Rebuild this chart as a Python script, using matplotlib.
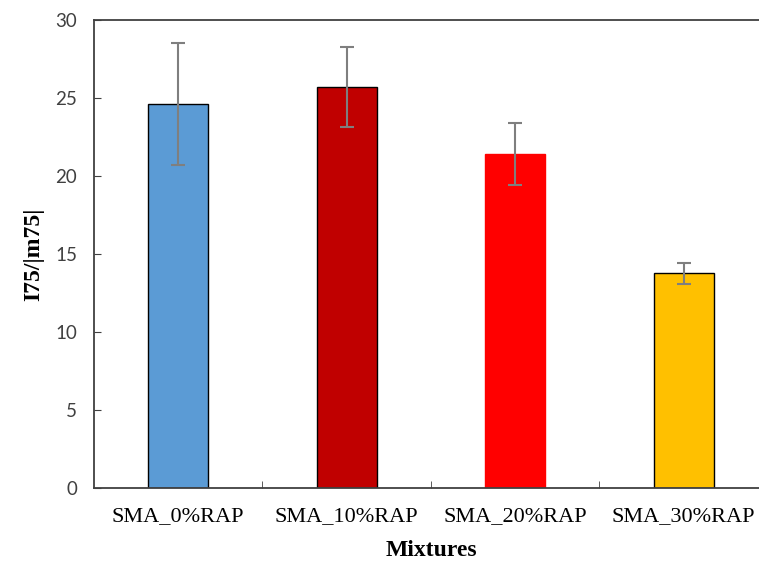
import matplotlib
matplotlib.use("Agg")
import matplotlib.pyplot as plt

mixtures = ["SMA_0%RAP", "SMA_10%RAP", "SMA_20%RAP", "SMA_30%RAP"]
ratio_mean = [24.6, 25.7, 21.4, 13.75]
ratio_err = [3.9, 2.55, 2.0, 0.65]
bar_colors = ["#5B9BD5", "#C00000", "#FF0000", "#FFC000"]
edge_colors = ["black", "black", "#FF0000", "black"]

fig = plt.figure(figsize=(7.59, 5.64), dpi=100)
ax = fig.add_axes([0.1238, 0.1348, 0.888, 0.8297])

x = range(len(mixtures))
ax.bar(x, ratio_mean, width=0.356, color=bar_colors, edgecolor=edge_colors,
       linewidth=1.0, zorder=2)
ax.errorbar(x, ratio_mean, yerr=ratio_err, fmt="none", ecolor="#7f7f7f",
            elinewidth=1.5, capsize=5, capthick=1.5, zorder=3)

ax.set_xlim(-0.5, 3.5)
ax.set_ylim(0, 30)
ax.set_yticks(range(0, 31, 5))
ax.set_xticks(x)
ax.set_xticklabels(mixtures, family="Liberation Serif", fontsize=16)
ax.set_xticks([0.5, 1.5, 2.5], minor=True)
ax.tick_params(axis="x", which="major", length=0, pad=14)
ax.tick_params(axis="x", which="minor", direction="in", length=5, color="#404040")
ax.tick_params(axis="y", direction="in", length=5, color="#404040",
               labelsize=13.5, labelcolor="#404040", pad=12)
for lbl in ax.get_yticklabels():
    lbl.set_family("Lato")

for side in ["top", "left", "bottom"]:
    ax.spines[side].set_color("#404040")
    ax.spines[side].set_linewidth(1.3)
ax.spines["right"].set_visible(False)

ax.set_ylabel("I75/|m75|", family="Liberation Serif", fontweight="bold",
              fontsize=17, labelpad=8)
ax.set_xlabel("Mixtures", family="Liberation Serif", fontweight="bold",
              fontsize=17, labelpad=10)

fig.savefig("out.png", dpi=100)
